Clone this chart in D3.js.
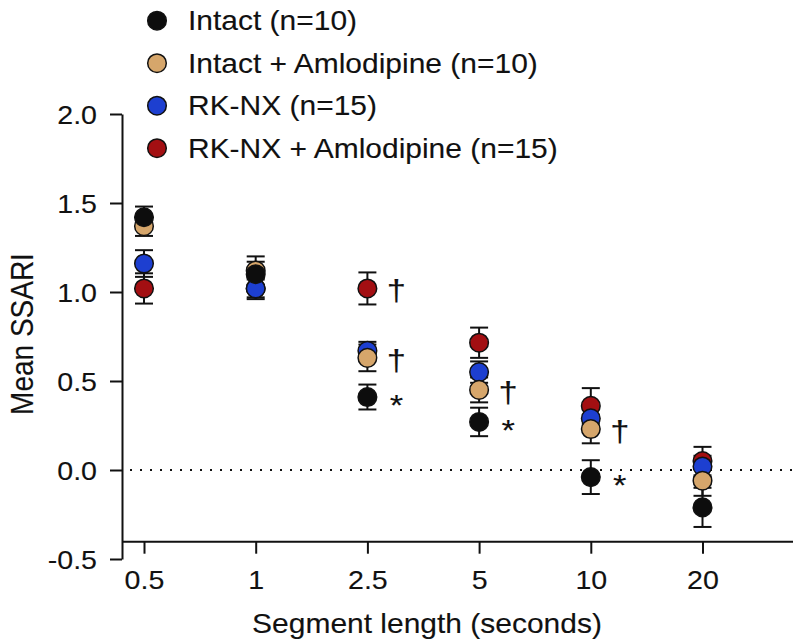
<!DOCTYPE html>
<html>
<head>
<meta charset="utf-8">
<script src="https://cdn.jsdelivr.net/npm/d3@7/dist/d3.min.js"></script>
<style>
  html, body { margin: 0; padding: 0; background: #fff; }
  svg { display: block; }
  text { font-family: "Liberation Sans", Arial, Helvetica, sans-serif; fill: #111; stroke: #111; stroke-width: 0.12px; }
</style>
</head>
<body>
<svg id="chart" width="795" height="641"></svg>
<script>
// ---- data ----
const categories = ["0.5", "1", "2.5", "5", "10", "20"];
const seriesNames = ["Intact (n=10)", "Intact + Amlodipine (n=10)", "RK-NX (n=15)", "RK-NX + Amlodipine (n=15)"];
const seriesColors = ["#0d0d0d", "#d6a66b", "#1d3fd0", "#a30f12"];
const intactMean = [1.42, 1.10, 0.41, 0.27, -0.04, -0.21];
const intactSE = [0.06, 0.07, 0.07, 0.08, 0.095, 0.11];
const intactAmloMean = [1.37, 1.12, 0.63, 0.45, 0.23, -0.06];
const intactAmloSE = [0.055, 0.08, 0.075, 0.07, 0.08, 0.085];
const rknxMean = [1.16, 1.02, 0.67, 0.55, 0.29, 0.02];
const rknxSE = [0.075, 0.06, 0.05, 0.06, 0.06, 0.06];
const rknxAmloMean = [1.02, 1.02, 1.02, 0.715, 0.36, 0.05];
const rknxAmloSE = [0.085, 0.05, 0.09, 0.085, 0.10, 0.08];
const yTicks = [-0.5, 0.0, 0.5, 1.0, 1.5, 2.0];
// significance marks: [category, series index, symbol]
const marks = [
  ["2.5", 3, "†"], ["2.5", 1, "†"], ["2.5", 0, "*"],
  ["5", 1, "†"], ["5", 0, "*"],
  ["10", 1, "†"], ["10", 0, "*"]
];

const means = [intactMean, intactAmloMean, rknxMean, rknxAmloMean];
const ses = [intactSE, intactAmloSE, rknxSE, rknxAmloSE];

// ---- layout ----
const svg = d3.select("#chart");
const yAxisX = 122, xAxisY = 541.7, xAxisEnd = 793;

const y = d3.scaleLinear().domain([-0.5, 2.0]).range([559, 114]);
const x = d3.scalePoint().domain(categories).range([144, 702.5]);

// zero dotted line
svg.append("line")
  .attr("x1", yAxisX + 8).attr("x2", xAxisEnd)
  .attr("y1", y(0)).attr("y2", y(0))
  .attr("stroke", "#111").attr("stroke-width", 2)
  .attr("stroke-dasharray", "2,8");

// y axis
const gy = svg.append("g").attr("transform", `translate(${yAxisX},0)`)
  .call(d3.axisLeft(y).tickValues(yTicks).tickFormat(d3.format(".1f")).tickSize(12).tickSizeOuter(0));
gy.select(".domain").attr("stroke", "#111").attr("stroke-width", 2);
gy.selectAll(".tick line").attr("stroke", "#111").attr("stroke-width", 2);
gy.selectAll(".tick text")
  .attr("x", null).attr("dy", null)
  .attr("transform", `translate(-25,9.3) scale(1.1,1)`)
  .style("font-size", "26px").style("font-family", "Liberation Sans, Arial, sans-serif")
  .attr("fill", "#111")
  .text(d => d < 0 ? "-" + d3.format(".1f")(-d) : d3.format(".1f")(d));

// x axis
const gx = svg.append("g").attr("transform", `translate(0,${xAxisY})`)
  .call(d3.axisBottom(x).tickSize(12).tickSizeOuter(0));
gx.select(".domain").remove();
gx.append("line").attr("x1", yAxisX).attr("x2", xAxisEnd).attr("y1", 0).attr("y2", 0)
  .attr("stroke", "#111").attr("stroke-width", 2);
gx.selectAll(".tick line").attr("stroke", "#111").attr("stroke-width", 2);
gx.selectAll(".tick text")
  .attr("y", null).attr("dy", null)
  .attr("transform", `translate(0,47) scale(1.1,1)`)
  .style("font-size", "26px").style("font-family", "Liberation Sans, Arial, sans-serif")
  .attr("fill", "#111");

// axis titles
svg.append("text")
  .attr("text-anchor", "middle")
  .attr("transform", `translate(427,633) scale(1.11,1)`)
  .style("font-size", "27px")
  .text("Segment length (seconds)");
svg.append("text")
  .attr("text-anchor", "middle")
  .attr("transform", `translate(33,334) scale(1.1,1) rotate(-90)`)
  .style("font-size", "28px")
  .text("Mean SSARI");

// data points
const pts = [];
means.forEach((m, si) => m.forEach((v, ci) => pts.push({ si, cat: categories[ci], v, se: ses[si][ci] })));

const order = [3, 2, 1, 0]; // draw red, blue, tan, black (black on top)
const gErr = svg.append("g");
const gPts = svg.append("g");
order.forEach(si => {
  const d = pts.filter(p => p.si === si);
  const e = gErr.selectAll(null).data(d).enter().append("g")
    .attr("stroke", "#111").attr("stroke-width", 2);
  e.append("line").attr("x1", p => x(p.cat)).attr("x2", p => x(p.cat))
    .attr("y1", p => y(p.v + p.se)).attr("y2", p => y(p.v - p.se));
  e.append("line").attr("x1", p => x(p.cat) - 9).attr("x2", p => x(p.cat) + 9)
    .attr("y1", p => y(p.v + p.se)).attr("y2", p => y(p.v + p.se));
  e.append("line").attr("x1", p => x(p.cat) - 9).attr("x2", p => x(p.cat) + 9)
    .attr("y1", p => y(p.v - p.se)).attr("y2", p => y(p.v - p.se));
});
order.forEach(si => {
  const d = pts.filter(p => p.si === si);
  gPts.selectAll(null).data(d).enter().append("circle")
    .attr("cx", p => x(p.cat)).attr("cy", p => y(p.v)).attr("r", 9.3)
    .attr("fill", seriesColors[si]).attr("stroke", "#111").attr("stroke-width", 1.5);
});

// significance marks
marks.forEach(([cat, si, sym]) => {
  const v = means[si][categories.indexOf(cat)];
  const isStar = sym === "*";
  svg.append("text")
    .attr("text-anchor", "middle")
    .attr("transform", `translate(${x(cat) + 29},${y(v) + (isStar ? 18 : 12.8)}) scale(1.15,1)`)
    .style("font-size", "30px")
    .text(sym);
});

// legend
const lg = svg.append("g");
seriesNames.forEach((name, i) => {
  const cy = 20.7 + i * 42.5;
  lg.append("circle").attr("cx", 157).attr("cy", cy).attr("r", 9.3)
    .attr("fill", seriesColors[i]).attr("stroke", "#111").attr("stroke-width", 1.5);
  lg.append("text").attr("transform", `translate(188,${cy + 9.6}) scale(1.11,1)`)
    .style("font-size", "27px").text(name);
});
</script>
</body>
</html>
